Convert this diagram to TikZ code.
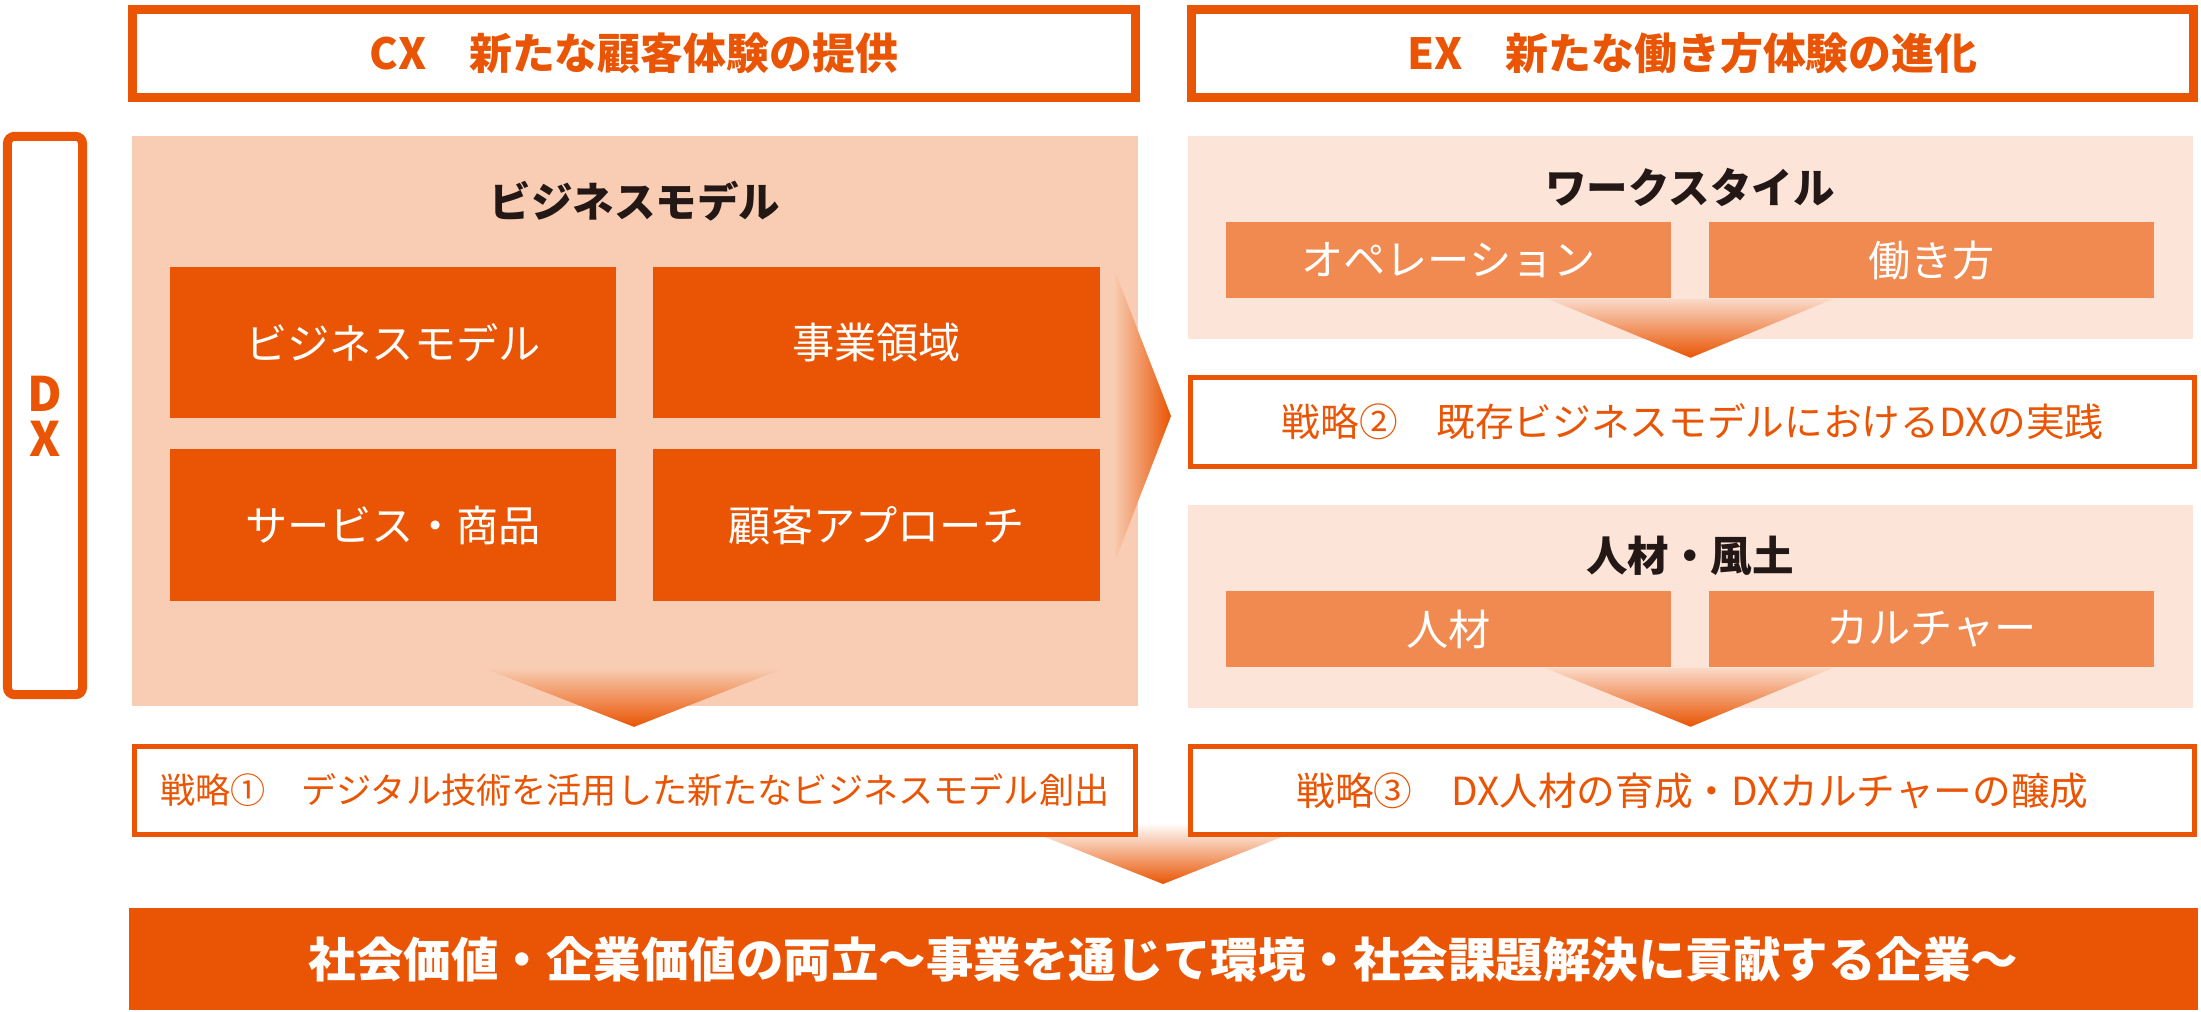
\documentclass[tikz,border=0pt]{standalone}
\usepackage{fontspec}
\setmainfont{Noto Sans CJK JP}
\usetikzlibrary{calc}
\definecolor{dxorange}{HTML}{E95504}
\definecolor{cxpanel}{HTML}{F8CDB3}
\definecolor{expanel}{HTML}{FCE5D8}
\definecolor{subfill}{HTML}{F08A50}
\definecolor{titleink}{HTML}{231815}

\begin{document}
\begin{tikzpicture}[x=0.01cm, y=-0.01cm, every node/.style={inner sep=0pt, align=center},
  headbox/.style={draw=dxorange, line width=0.09cm, fill=white, minimum height=0.88cm, text=dxorange, font=\fontsize{12.2}{15}\selectfont\bfseries},
  panel/.style={minimum width=10.05cm, minimum height=2.03cm},
  paneltitle/.style={text=titleink, font=\fontsize{11.8}{14}\selectfont\bfseries},
  bmbox/.style={fill=dxorange, text=white, minimum width=4.46cm, minimum height=1.515cm, font=\fontsize{12}{14}\selectfont},
  subbox/.style={fill=subfill, text=white, minimum width=4.45cm, minimum height=0.76cm, font=\fontsize{12}{14}\selectfont},
  stratbox/.style={draw=dxorange, line width=0.05cm, fill=white, minimum height=0.88cm, text=dxorange, font=\fontsize{11}{13}\selectfont}]
  \useasboundingbox (0,0) rectangle (2201,1011);
  \node[headbox, minimum width=10.03cm] (cx) at (634,53.5) {CX　新たな顧客体験の提供};
  \node[headbox, minimum width=10.02cm] (ex) at (1692.5,53.5) {EX　新たな働き方体験の進化};
  \node[draw=dxorange, line width=0.09cm, rounded corners=2pt, minimum width=0.75cm, minimum height=5.58cm] (dx) at (45,415.5) {};
  \node[text=dxorange, font=\fontsize{13.5}{12.8}\selectfont\bfseries] (dxlabel) at (45,416) {D\\X};
  \node[fill=cxpanel, minimum width=10.06cm, minimum height=5.70cm] (bm) at (635,421) {};
  \node[panel, fill=expanel] (ws) at (1690.5,237.5) {};
  \node[panel, fill=expanel] (jz) at (1690.5,606.5) {};
  \node[paneltitle] (bmtitle) at (635,201) {ビジネスモデル};
  \node[paneltitle] (wstitle) at (1690,187) {ワークスタイル};
  \node[paneltitle] (jztitle) at (1690,556) {人材・風土};
  \foreach \n/\x/\y/\t in {b1/393/342.5/ビジネスモデル, b2/876.5/342.5/事業領域, b3/393/525/サービス・商品, b4/876.5/525/顧客アプローチ}
    \node[bmbox] (\n) at (\x,\y) {\t};
  \foreach \n/\x/\y/\t in {ws1/1448.5/260/オペレーション, ws2/1931.5/260/働き方, jz1/1448.5/629/人材, jz2/1931.5/629/カルチャー}
    \node[subbox] (\n) at (\x,\y) {\t};
  \shade[left color=cxpanel, right color=dxorange] ($(b2.north east)+(13,1)$) -- (1171,416) -- ($(b4.south east)+(13,-36)$) -- cycle;
  \shade[top color=cxpanel, bottom color=dxorange] ($(bm.south)+(-152,-39)$) -- ($(bm.south)+(150,-39)$) -- ($(bm.south)+(-1,20)$) -- cycle;
  \shade[top color=dxorange!22, bottom color=dxorange] ($(ws.south)+(-143,-41)$) -- ($(ws.south)+(143,-41)$) -- ($(ws.south)+(0,18)$) -- cycle;
  \shade[top color=dxorange!22, bottom color=dxorange] ($(jz.south)+(-146,-41)$) -- ($(jz.south)+(143,-41)$) -- ($(jz.south)+(0,18)$) -- cycle;
  \shade[top color=white, bottom color=dxorange] (1010,823) -- (1317,823) -- (1163,884) -- cycle;
  \node[stratbox, minimum width=10.04cm, minimum height=0.89cm] (s2) at (1692.5,422) {戦略②　既存ビジネスモデルにおけるDXの実践};
  \node[stratbox, minimum width=10.01cm, font=\fontsize{10}{12}\selectfont] (s1) at (635,790.5) {戦略①　デジタル技術を活用した新たなビジネスモデル創出};
  \node[stratbox, minimum width=10.04cm] (s3) at (1692.5,790.5) {戦略③　DX人材の育成・DXカルチャーの醸成};
  \node[fill=dxorange, text=white, minimum width=20.67cm, minimum height=1.02cm, font=\fontsize{13.5}{16}\selectfont\bfseries] (goal) at (1163.5,959) {社会価値・企業価値の両立～事業を通じて環境・社会課題解決に貢献する企業～};
\end{tikzpicture}
\end{document}
